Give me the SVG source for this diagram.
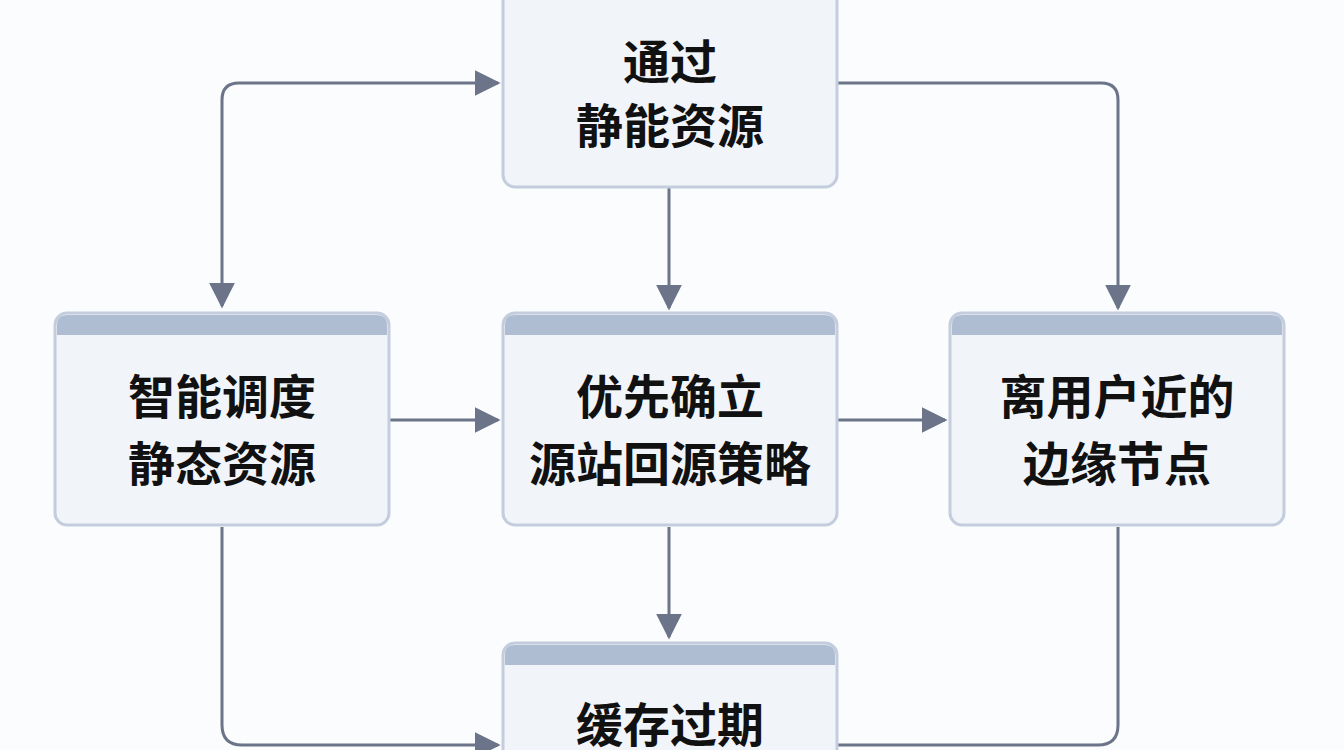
<svg xmlns="http://www.w3.org/2000/svg" width="1344" height="750" viewBox="0 0 1344 750">
<defs>
<style>
.box{fill:#f1f4f9;stroke:#c3cddd;stroke-width:3}
.hd{fill:#afbdd3}
.t{font-family:"Noto Sans CJK SC","Noto Sans",sans-serif;font-size:47px;font-weight:bold;fill:#111;text-anchor:middle}
.c{fill:none;stroke:#6b7488;stroke-width:3}
</style>
<marker id="a" viewBox="0 0 10 10" refX="9" refY="5" markerWidth="26" markerHeight="26" markerUnits="userSpaceOnUse" orient="auto-start-reverse"><path d="M0,0 L10,5 L0,10 z" fill="#6b7488"/></marker>
</defs>
<rect width="1344" height="750" fill="#fbfcfd"/>
<g id="connectors">
<path class="c" d="M222,306 V100 Q222,83 239,83 H498" marker-start="url(#a)" marker-end="url(#a)"/>
<path class="c" d="M837,83 H1101 Q1118,83 1118,100 V308" marker-end="url(#a)"/>
<path class="c" d="M669,188 V308" marker-end="url(#a)"/>
<path class="c" d="M390,420 H498" marker-end="url(#a)"/>
<path class="c" d="M838,420 H945" marker-end="url(#a)"/>
<path class="c" d="M669,527 V637" marker-end="url(#a)"/>
<path class="c" d="M222,527 V725 Q222,745 242,745 H498" marker-end="url(#a)"/>
<path class="c" d="M1118,527 V725 Q1118,745 1098,745 H838"/>
</g>
<g id="n_top">
<rect class="box" x="503" y="-20" width="334" height="207" rx="12"/>
<text class="t" x="670" y="79">通过</text>
<text class="t" x="670" y="143">静能资源</text>
</g>
<g id="n_left">
<rect class="box" x="55" y="313" width="334" height="212" rx="12"/>
<path class="hd" d="M57,335 V325 Q57,315 67,315 H377 Q387,315 387,325 V335 Z"/>
<text class="t" x="222" y="414">智能调度</text>
<text class="t" x="222" y="481">静态资源</text>
</g>
<g id="n_center">
<rect class="box" x="503" y="313" width="334" height="212" rx="12"/>
<path class="hd" d="M505,335 V325 Q505,315 515,315 H825 Q835,315 835,325 V335 Z"/>
<text class="t" x="670" y="414">优先确立</text>
<text class="t" x="670" y="481">源站回源策略</text>
</g>
<g id="n_right">
<rect class="box" x="950" y="313" width="334" height="212" rx="12"/>
<path class="hd" d="M952,335 V325 Q952,315 962,315 H1272 Q1282,315 1282,325 V335 Z"/>
<text class="t" x="1117" y="414">离用户近的</text>
<text class="t" x="1117" y="481">边缘节点</text>
</g>
<g id="n_bottom">
<rect class="box" x="503" y="643" width="334" height="140" rx="12"/>
<path class="hd" d="M505,665 V655 Q505,645 515,645 H825 Q835,645 835,655 V665 Z"/>
<text class="t" x="670" y="742">缓存过期</text>
</g>
</svg>
